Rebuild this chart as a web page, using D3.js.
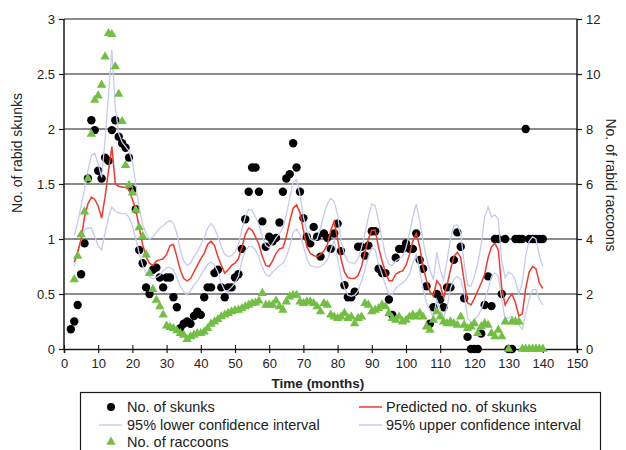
<!DOCTYPE html>
<html><head><meta charset="utf-8">
<script src="https://cdn.jsdelivr.net/npm/d3@7"></script>
<style>body{margin:0;background:#fff}svg{display:block;font-family:"Liberation Sans",Arial,sans-serif}</style>
</head><body><svg id="c" width="626" height="450"></svg>
<script>
// ---- data ----
const skunkMonths = d3.range(2, 141);
const skunks = [0.18,0.25,0.40,0.68,0.96,1.55,2.08,1.99,1.62,1.55,1.74,1.71,1.99,2.08,1.93,1.87,1.83,1.74,1.45,1.27,0.90,0.78,0.56,0.50,0.72,0.74,0.65,0.56,0.65,0.65,0.47,0.38,0.19,0.23,0.25,0.23,0.30,0.34,0.31,0.47,0.56,0.56,0.69,0.72,0.56,0.47,0.56,0.56,0.65,0.68,0.91,1.18,1.43,1.65,1.65,1.43,1.16,0.93,1.02,0.98,1.01,1.15,1.43,1.55,1.59,1.87,1.65,1.43,1.19,1.02,0.96,1.11,1.02,0.84,1.05,1.01,0.91,1.05,1.14,0.89,0.58,0.47,0.47,0.52,0.93,0.93,0.85,0.94,1.07,1.07,0.73,0.69,0.69,0.45,0.31,0.83,0.91,0.91,0.96,0.91,0.91,1.05,0.81,0.73,0.57,0.23,0.38,0.50,0.45,0.38,0.56,0.56,0.81,1.06,0.93,0.46,0.11,0,0,0,0.14,0.40,0.66,0.39,1.0,1.0,0.5,1.0,0,0,1,1,1,2,1,1,1,1,1];
const modelMonths = d3.range(3, 141);
const predicted = [0.79,0.88,1.0,1.2,1.32,1.38,1.36,1.3,1.19,1.38,1.62,1.84,1.5,1.48,1.47,1.47,1.45,1.36,1.27,1.1,0.95,0.84,0.78,0.76,0.8,0.81,0.82,0.86,0.94,0.95,0.84,0.72,0.64,0.62,0.64,0.7,0.76,0.82,0.87,0.95,0.98,0.94,0.84,0.76,0.69,0.72,0.76,0.78,0.82,0.92,1.04,1.1,1.08,1.02,0.95,0.84,0.76,0.75,0.8,0.87,0.91,0.92,1.02,1.16,1.28,1.31,1.24,1.08,0.93,0.87,0.85,0.84,0.86,0.89,0.95,1.08,1.16,1.0,0.82,0.7,0.65,0.64,0.64,0.67,0.75,0.88,1.0,1.08,1.08,0.92,0.8,0.7,0.62,0.62,0.68,0.7,0.71,0.76,0.86,0.98,1.05,0.93,0.75,0.62,0.52,0.48,0.62,0.58,0.47,0.58,0.72,0.84,0.88,0.83,0.62,0.42,0.4,0.46,0.53,0.6,0.68,0.83,0.93,0.96,0.9,0.55,0.4,0.46,0.5,0.42,0.3,0.32,0.55,0.7,0.75,0.73,0.6,0.55];
const lowerCI = [0.75,0.88,0.99,1.08,1.1,1.1,1.02,0.94,0.9,1.05,1.2,1.29,1.25,1.24,1.23,1.23,1.2,1.12,1.0,0.87,0.76,0.69,0.66,0.64,0.65,0.67,0.71,0.74,0.74,0.72,0.65,0.57,0.52,0.49,0.53,0.58,0.62,0.67,0.72,0.77,0.79,0.76,0.7,0.6,0.53,0.53,0.56,0.6,0.66,0.8,0.89,0.93,0.93,0.9,0.83,0.74,0.68,0.66,0.7,0.73,0.76,0.78,0.84,0.93,1.06,1.09,1.04,0.94,0.82,0.76,0.75,0.74,0.75,0.77,0.81,0.9,0.99,0.82,0.66,0.56,0.49,0.48,0.49,0.53,0.62,0.72,0.84,0.92,0.9,0.77,0.68,0.58,0.5,0.5,0.55,0.58,0.6,0.63,0.68,0.78,0.86,0.72,0.55,0.42,0.35,0.29,0.45,0.36,0.29,0.38,0.55,0.63,0.66,0.63,0.51,0.28,0.24,0.27,0.3,0.36,0.45,0.54,0.66,0.69,0.66,0.45,0.27,0.28,0.3,0.26,0.22,0.18,0.32,0.45,0.54,0.54,0.45,0.4];
const upperCI = [1.03,1.15,1.3,1.45,1.62,1.76,1.78,1.68,1.56,1.9,2.3,2.72,2.2,1.96,1.88,1.84,1.8,1.7,1.5,1.28,1.13,1.05,1.0,1.02,1.06,1.1,1.12,1.15,1.17,1.14,1.05,0.9,0.8,0.76,0.78,0.84,0.88,0.95,1.01,1.1,1.14,1.1,1.02,0.93,0.86,0.84,0.85,0.88,0.95,1.08,1.2,1.27,1.26,1.2,1.13,1.02,0.94,0.92,0.96,1.01,1.05,1.1,1.22,1.37,1.52,1.54,1.4,1.2,1.08,1.0,0.98,1.0,1.1,1.22,1.32,1.37,1.34,1.22,0.98,0.86,0.8,0.78,0.78,0.82,0.92,1.05,1.2,1.32,1.3,1.16,1.0,0.85,0.77,0.76,0.8,0.82,0.84,0.92,1.05,1.2,1.32,1.17,0.98,0.82,0.72,0.63,0.88,0.72,0.63,0.8,1.0,1.12,1.13,1.05,0.78,0.58,0.57,0.66,0.78,0.95,1.2,1.29,1.2,1.22,1.18,0.8,0.65,0.7,0.68,0.62,0.5,0.6,0.85,0.98,1.02,1.0,0.85,0.75];
const raccoonMonths = d3.range(3, 141);
const raccoons = [2.53,3.38,4.16,4.99,6.2,7.82,9.05,9.21,9.6,10.63,11.48,11.44,10.27,9.27,8.28,6.68,5.96,5.68,5.05,4.42,4.1,3.43,2.75,2.17,1.78,1.54,1.24,0.84,0.79,0.75,0.67,0.57,0.51,0.35,0.45,0.51,0.57,0.57,0.63,0.75,0.91,0.99,1.08,1.18,1.24,1.3,1.36,1.4,1.42,1.48,1.54,1.6,1.66,1.68,1.75,2.03,1.6,1.6,1.6,1.75,1.54,1.42,1.72,1.9,1.96,1.96,1.72,1.66,1.72,1.72,1.66,1.54,1.36,1.66,1.6,1.24,1.17,1.12,1.17,1.3,1.12,1.17,0.93,1.12,1.17,1.66,1.6,1.36,1.42,1.48,1.6,1.54,1.3,1.12,1.05,1.17,0.99,1.05,1.17,1.24,1.17,1.3,1.17,0.81,0.69,1.05,1.36,1.17,0.99,0.93,0.99,0.93,0.87,1.17,0.87,0.75,0.81,0.93,0.57,0.81,0.93,0.87,0.57,0.45,0.69,0.45,0.99,0,0.99,0.99,0.99,0,0,0,0,0,0,0];
const xTicks = d3.range(0, 151, 10);
const yLeftTicks = [0,0.5,1,1.5,2,2.5,3];
const yRightTicks = [0,2,4,6,8,10,12];
const legendItems = [
  {label:"No. of skunks", kind:"dot"},
  {label:"Predicted no. of skunks", kind:"red"},
  {label:"95% lower confidence interval", kind:"ci"},
  {label:"95% upper confidence interval", kind:"ci"},
  {label:"No. of raccoons", kind:"tri"}
];

// ---- drawing ----
const svg = d3.select("#c");
const L = 64, R = 577, T = 19, B = 349;
const x = d3.scaleLinear().domain([0,150]).range([L,R]);
const yL = d3.scaleLinear().domain([0,3]).range([B,T]);
const yR = d3.scaleLinear().domain([0,12]).range([B,T]);
const RED = "#ee3b2b", CI = "#c6cbee", GREEN = "#72bf44";

// gridlines
svg.append("g").selectAll("line").data(yLeftTicks.slice(1)).join("line")
  .attr("x1", L).attr("x2", R).attr("y1", d=>yL(d)).attr("y2", d=>yL(d))
  .attr("stroke", "#1a1a1a").attr("stroke-width", 1.2);

const fs = "13px";
const gL = svg.append("g").attr("transform", `translate(${L},0)`)
  .call(d3.axisLeft(yL).tickValues(yLeftTicks).tickSize(5).tickPadding(4).tickFormat(d=>String(d)));
const gR = svg.append("g").attr("transform", `translate(${R},0)`)
  .call(d3.axisRight(yR).tickValues(yRightTicks).tickSize(5).tickPadding(4));
const gB = svg.append("g").attr("transform", `translate(0,${B})`)
  .call(d3.axisBottom(x).tickValues(xTicks).tickSize(4).tickPadding(6));
svg.append("g").attr("transform", `translate(0,${B})`)
  .call(d3.axisBottom(x).tickValues(xTicks).tickSize(-4).tickFormat(""))
  .select(".domain").remove();
[gL,gR,gB].forEach(g=>{
  g.select(".domain").attr("stroke","#1a1a1a").attr("stroke-width",1.5);
  g.selectAll(".tick line").attr("stroke","#1a1a1a").attr("stroke-width",1.2);
  g.selectAll("text").attr("font-size",fs).attr("fill","#222").attr("font-family","'Liberation Sans',Arial,sans-serif");
});
gL.select(".domain").attr("d", `M0,${B}V${T}`);
gR.select(".domain").attr("d", `M0,${B}V${T}`);

// axis titles
svg.append("text").attr("transform","translate(22,153) rotate(-90)").attr("text-anchor","middle")
  .attr("font-size","14px").attr("fill","#222").text("No. of rabid skunks");
svg.append("text").attr("transform","translate(606,185) rotate(90)").attr("text-anchor","middle")
  .attr("font-size","14px").attr("fill","#222").text("No. of rabid raccoons");
svg.append("text").attr("x",318).attr("y",388).attr("text-anchor","middle")
  .attr("font-size","13.5px").attr("font-weight","bold").attr("fill","#222").text("Time (months)");

// skunk dots
svg.append("g").selectAll("circle").data(skunks).join("circle")
  .attr("cx",(d,i)=>x(skunkMonths[i])).attr("cy",d=>yL(d)).attr("r",4.2).attr("fill","#000");

// lines
const line = arr => d3.line().x((d,i)=>x(modelMonths[i])).y(d=>yL(d))(arr);
svg.append("path").attr("d",line(lowerCI)).attr("fill","none").attr("stroke",CI).attr("stroke-width",1.3);
svg.append("path").attr("d",line(upperCI)).attr("fill","none").attr("stroke",CI).attr("stroke-width",1.3);
svg.append("path").attr("d",line(predicted)).attr("fill","none").attr("stroke",RED).attr("stroke-width",1.5);

// raccoon triangles
const tri = d3.symbol().type(d3.symbolTriangle).size(38);
svg.append("g").selectAll("path").data(raccoons).join("path")
  .attr("transform",(d,i)=>`translate(${x(raccoonMonths[i])},${yR(d)})`)
  .attr("d",tri).attr("fill",GREEN);

// legend
svg.append("rect").attr("x",80.5).attr("y",392.5).attr("width",520).attr("height",80)
  .attr("fill","#fff").attr("stroke","#1a1a1a").attr("stroke-width",1.2);
const cols = [{mx:111, lx:99, tx:127},{mx:372, lx:359, tx:386}];
const rows = [407, 425, 442];
legendItems.forEach((it,i)=>{
  const c = cols[i%2], yy = rows[Math.floor(i/2)];
  const g = svg.append("g");
  if(it.kind==="dot") g.append("circle").attr("cx",c.mx).attr("cy",yy).attr("r",4).attr("fill","#000");
  else if(it.kind==="tri") g.append("path").attr("transform",`translate(${c.mx},${yy})`).attr("d",tri).attr("fill",GREEN);
  else g.append("line").attr("x1",c.lx).attr("x2",c.lx+23).attr("y1",yy).attr("y2",yy)
        .attr("stroke", it.kind==="red"?RED:CI).attr("stroke-width",1.5);
  g.append("text").attr("x",c.tx).attr("y",yy+5).attr("font-size","14.5px").attr("fill","#222").text(it.label);
});
</script></body></html>
